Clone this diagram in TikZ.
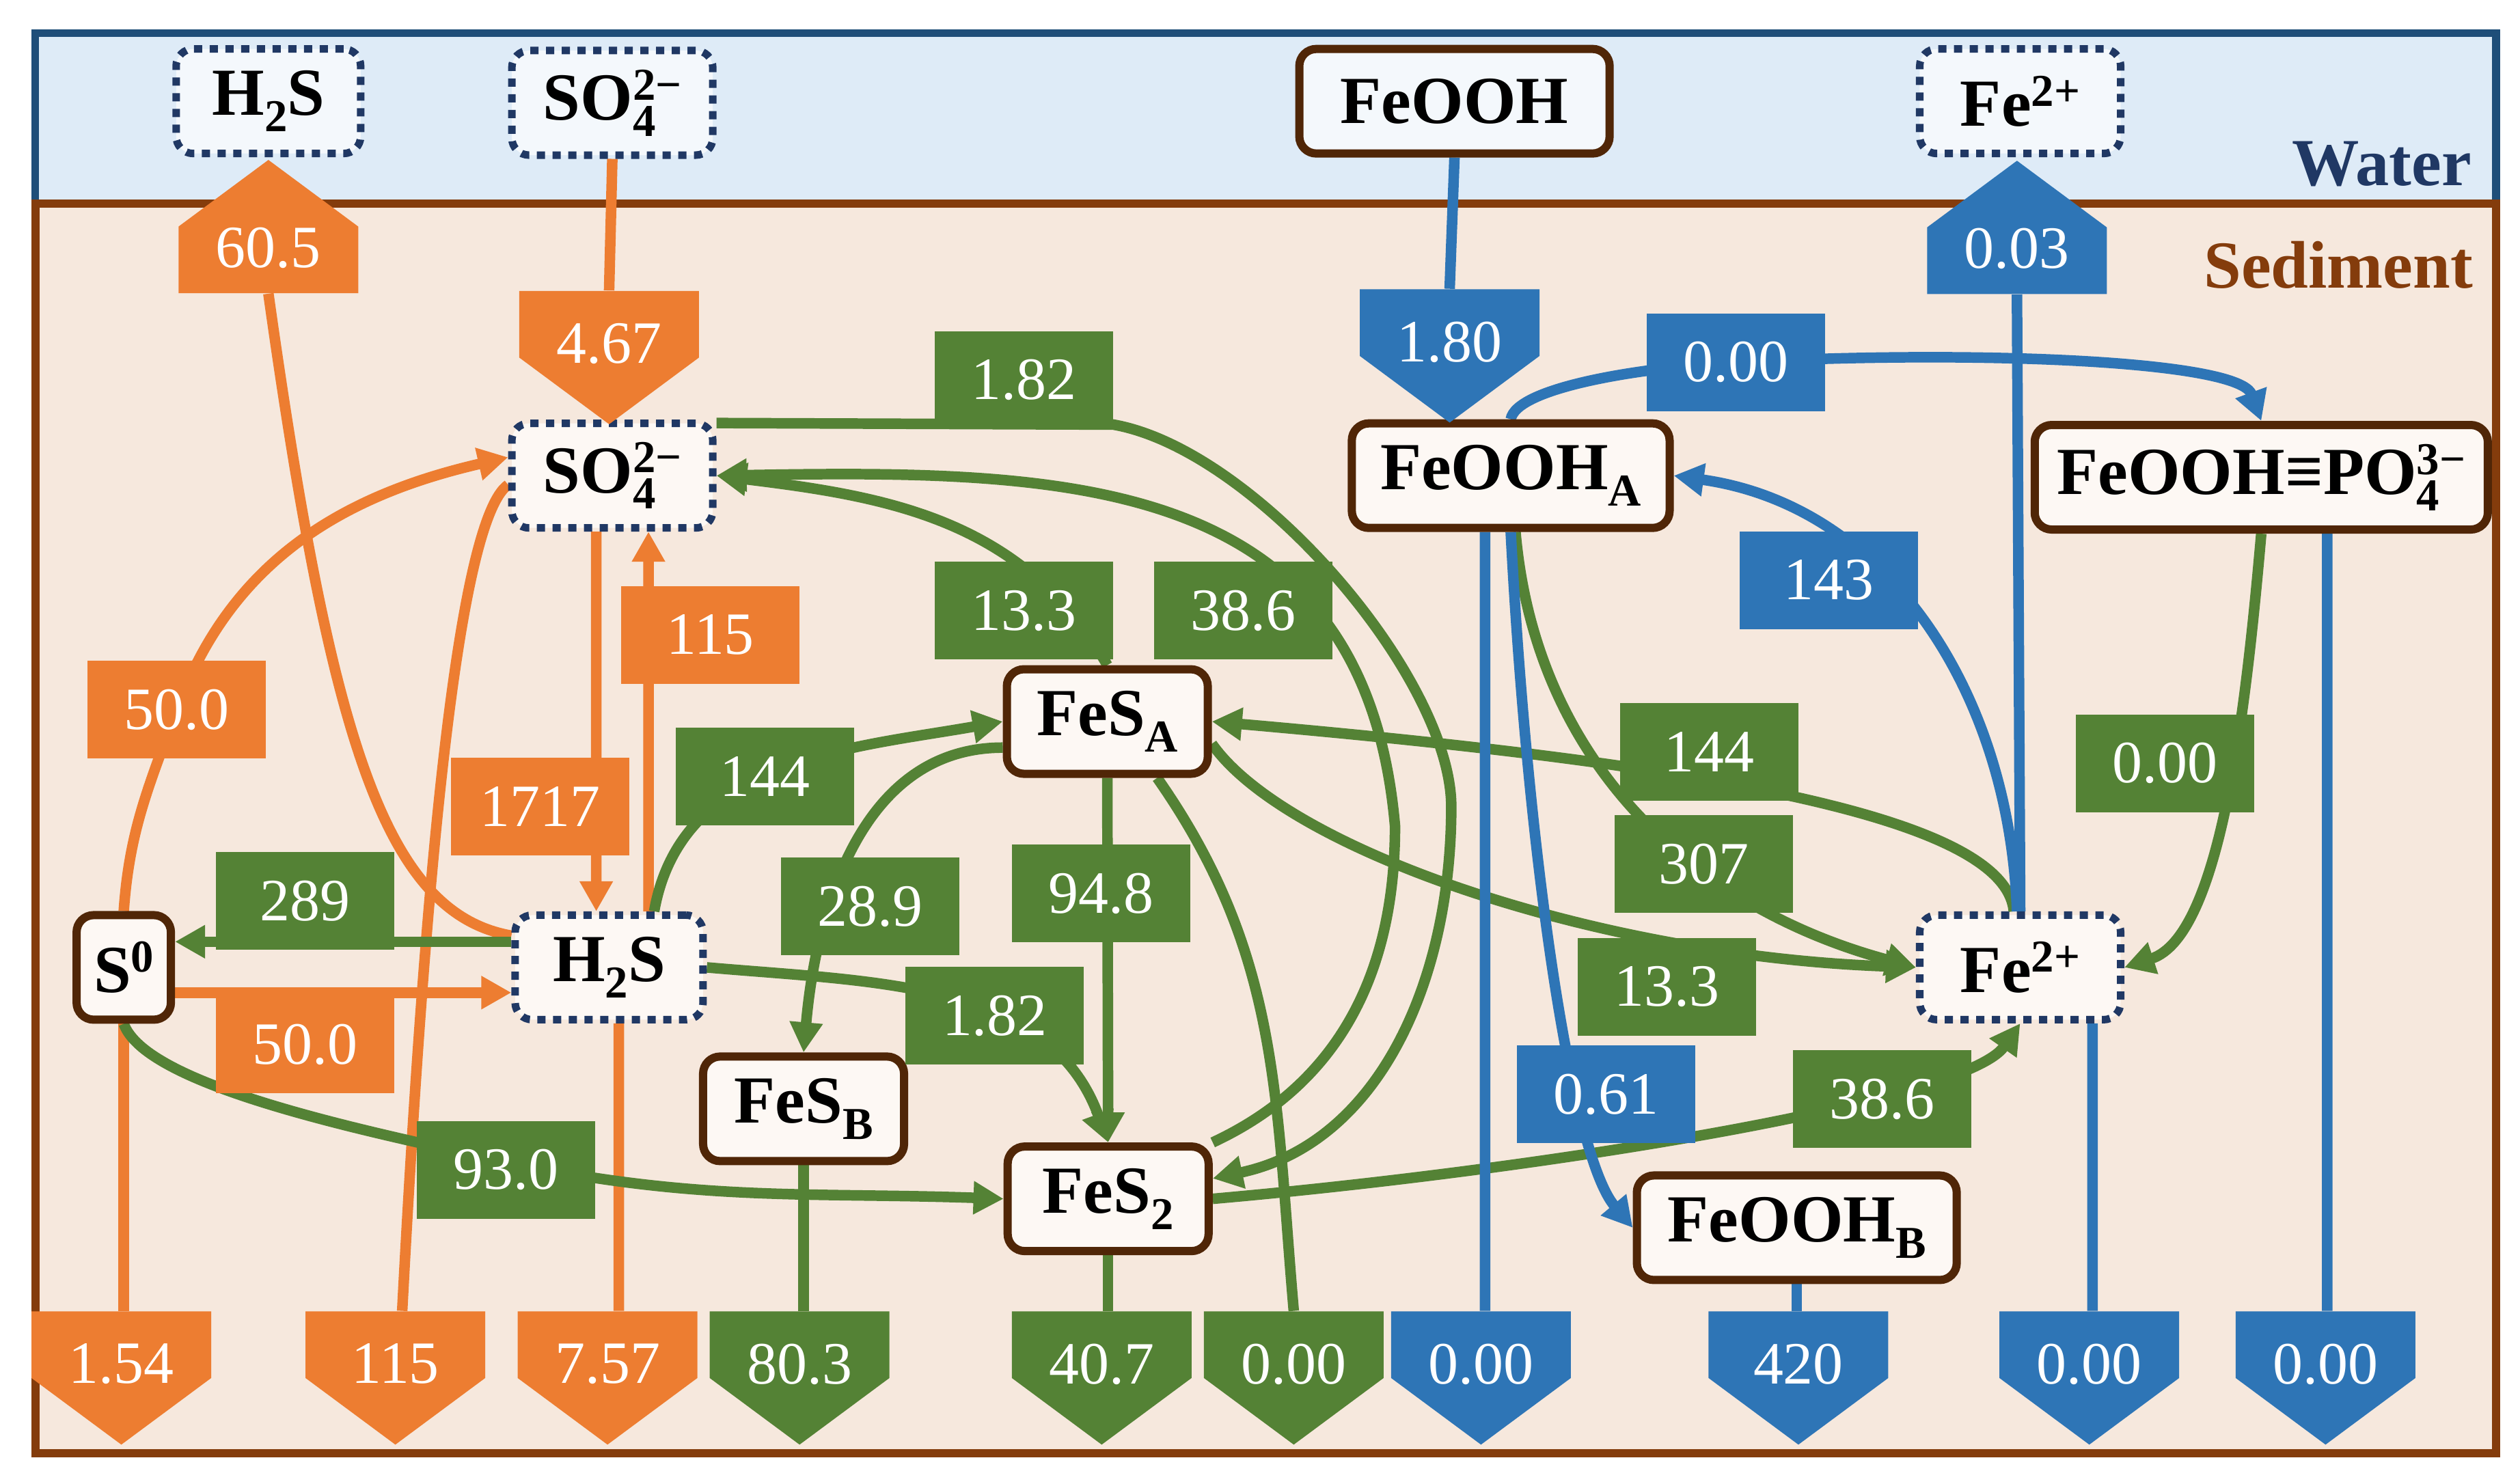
\documentclass[tikz,border=0pt]{standalone}
\usepackage{fontspec}
\setmainfont{Liberation Serif}
\usetikzlibrary{arrows.meta}
\pgfdeclarelayer{bg}
\pgfdeclarelayer{lines}
\pgfsetlayers{bg,lines,main}

\definecolor{orng}{HTML}{ED7D31}
\definecolor{grn}{HTML}{548235}
\definecolor{blu}{HTML}{2E75B6}
\definecolor{waterbg}{HTML}{DEEBF7}
\definecolor{sedbg}{HTML}{F6E8DD}
\definecolor{waterline}{HTML}{1F4E79}
\definecolor{sedline}{HTML}{843C0C}
\definecolor{navy}{HTML}{203864}
\definecolor{boxbrown}{HTML}{502607}
\definecolor{wfill}{HTML}{F4F8FC}
\definecolor{sfill}{HTML}{FDF8F4}

\newcommand{\spfont}{\fontsize{28}{30}\selectfont\bfseries}
\newcommand{\numfont}{\fontsize{25}{27}\selectfont}
\newcommand{\chsub}[1]{\raisebox{-0.24em}{\fontsize{19}{19}\selectfont #1}}
\newcommand{\chsup}[1]{\raisebox{0.3em}{\fontsize{19}{19}\selectfont #1}}
\newcommand{\chsubsup}[2]{\rlap{\chsub{#1}}\chsup{#2}}

\tikzset{
    species/.style={rounded corners=0.25cm, minimum height=1.53cm, inner sep=0pt, font=\spfont},
    solidsp/.style={species, draw=boxbrown, line width=0.12cm, fill=#1},
    dotsp/.style={species, draw=navy, line width=0.11cm, dash pattern=on 0.12cm off 0.11cm, fill=#1},
    numbox/.style={fill=#1, text=white, font=\numfont, minimum width=2.61cm, minimum height=1.43cm, inner sep=0pt},
    fluxdn/.style={text=white, font=\numfont, minimum width=2.63cm, minimum height=1.95cm, inner sep=0pt, text depth=0.42cm,
        path picture={\fill[#1] (path picture bounding box.north west) -- (path picture bounding box.north east) -- (path picture bounding box.east) -- (path picture bounding box.south) -- (path picture bounding box.west) -- cycle;}},
    fluxup/.style={text=white, font=\numfont, minimum width=2.63cm, minimum height=1.95cm, inner sep=0pt, text height=1.2cm, text depth=0cm,
        path picture={\fill[#1] (path picture bounding box.south west) -- (path picture bounding box.south east) -- (path picture bounding box.east) -- (path picture bounding box.north) -- (path picture bounding box.west) -- cycle;}},
    fluxline/.style={draw=#1, line width=4.4pt},
    fluxarrow/.style={fluxline=#1, -{Triangle[length=0.44cm, width=0.46cm]}}
}

\begin{document}
\begin{tikzpicture}[x=0.02352cm, y=0.02352cm]
    \useasboundingbox (0,0) rectangle (1568,915);
    % water and sediment
    \begin{pgfonlayer}{bg}
        \fill[waterbg] (22,894.4) rectangle (1553,788.5);
        \fill[sedbg] (22,788.5) rectangle (1553,10.7);
        \draw[waterline, line width=0.115cm] (22,788.5) -- (22,894.4) -- (1553,894.4) -- (1553,788.5);
        \draw[sedline, line width=0.12cm] (22,788.5) rectangle (1553,10.7);
    \end{pgfonlayer}
    \node[anchor=base east, inner sep=0pt, font=\spfont, text=navy] (wlabel) at (1538,799.6) {Water};
    \node[anchor=base east, inner sep=0pt, font=\spfont, text=sedline] (slabel) at (1539,735.6) {Sediment};

    % species
    \node[dotsp=wfill, minimum width=2.70cm] (wH2S) at (167,852) {H\chsub{2}S};
    \node[dotsp=wfill, minimum width=2.94cm] (wSO4) at (381,851) {SO\chsubsup{4}{2−}};
    \node[solidsp=wfill, minimum width=4.54cm] (wFeOOH) at (905,852) {FeOOH};
    \node[dotsp=wfill, minimum width=2.94cm] (wFe) at (1257,852) {Fe\chsup{2+}};
    \node[dotsp=sfill, minimum width=2.94cm] (sSO4) at (381,619) {SO\chsubsup{4}{2−}};
    \node[solidsp=sfill, minimum width=1.38cm] (sS0) at (77,313) {S\chsup{0}};
    \node[dotsp=sfill, minimum width=2.75cm] (sH2S) at (379,313) {H\chsub{2}S};
    \node[solidsp=sfill, minimum width=2.94cm] (sFeSA) at (689,466) {FeS\chsub{A}};
    \node[solidsp=sfill, minimum width=4.65cm] (sFeOOHA) at (940,619) {FeOOH\chsub{A}};
    \node[solidsp=sfill, minimum width=6.63cm] (sPO4) at (1407,618) {FeOOH≡PO\chsubsup{4}{3−}};
    \node[dotsp=sfill, minimum width=2.94cm] (sFe) at (1257,313) {Fe\chsup{2+}};
    \node[solidsp=sfill, minimum width=2.94cm] (sFeSB) at (500,225) {FeS\chsub{B}};
    \node[solidsp=sfill, minimum width=2.94cm] (sFeS2) at (689.5,169) {FeS\chsub{2}};
    \node[solidsp=sfill, minimum width=4.68cm] (sFeOOHB) at (1118,151) {FeOOH\chsub{B}};

    % exchange with water
    \node[fluxup=orng] (p605) at (167,774) {60.5};
    \node[fluxdn=orng] (p467) at (379,692.5) {4.67};
    \node[fluxdn=blu] (p180) at (902,693.5) {1.80};
    \node[fluxup=blu] (p003) at (1255,773.5) {0.03};
    % burial
    \node[fluxdn=orng] (b154) at (75.5,57.5) {1.54};
    \node[fluxdn=orng] (b115) at (246,57.5) {115};
    \node[fluxdn=orng] (b757) at (378,57.5) {7.57};
    \node[fluxdn=grn] (b803) at (497.5,57.5) {80.3};
    \node[fluxdn=grn] (b407) at (685.5,57.5) {40.7};
    \node[fluxdn=grn] (b000g) at (805,57.5) {0.00};
    \node[fluxdn=blu] (b000a) at (921.5,57.5) {0.00};
    \node[fluxdn=blu] (b420) at (1119,57.5) {420};
    \node[fluxdn=blu] (b000b) at (1300,57.5) {0.00};
    \node[fluxdn=blu] (b000c) at (1447,57.5) {0.00};

    % rates
    \node[numbox=orng] (l50p0a) at (110,473.5) {50.0};
    \node[numbox=orng] (l115) at (442,520) {115};
    \node[numbox=orng] (l1717) at (336,413) {1717};
    \node[numbox=orng] (l50p0b) at (190,265) {50.0};
    \node[numbox=grn] (l1p82a) at (637,678.5) {1.82};
    \node[numbox=grn] (l13p3a) at (637,535) {13.3};
    \node[numbox=grn] (l38p6a) at (773.5,535) {38.6};
    \node[numbox=grn] (l144a) at (476,432) {144};
    \node[numbox=grn] (l289) at (190,354.5) {289};
    \node[numbox=grn] (l28p9) at (541.5,351) {28.9};
    \node[numbox=grn] (l94p8) at (685,359) {94.8};
    \node[numbox=grn] (l1p82b) at (619,283) {1.82};
    \node[numbox=grn] (l93p0) at (315,187) {93.0};
    \node[numbox=grn] (l144b) at (1063.5,447) {144};
    \node[numbox=grn] (l307) at (1060,377.5) {307};
    \node[numbox=grn] (l13p3b) at (1037,301) {13.3};
    \node[numbox=grn] (l0p00g) at (1347,440) {0.00};
    \node[numbox=grn] (l38p6b) at (1171,231) {38.6};
    \node[numbox=blu] (l0p00t) at (1080,689.5) {0.00};
    \node[numbox=blu] (l143) at (1138,554) {143};
    \node[numbox=blu] (l0p61) at (999.5,234) {0.61};

    \coordinate (g182r) at (903,413);
    \coordinate (g386r) at (868,401);

    \begin{pgfonlayer}{lines}
        % sulfur
        \draw[fluxline=orng] (sH2S.162) to[out=170, in=-82, out distance=1.88cm, in distance=6.59cm] (p605.south);
        \draw[fluxline=orng] (wSO4.south) -- (p467.north);
        \draw[fluxarrow=orng] (sS0.north) to[out=86, in=-110] (l50p0a.center) to[out=70, in=193] (sSO4.170);
        \draw[fluxarrow=orng] ([xshift=-0.235cm]sSO4.south) -- ([xshift=-0.188cm]sH2S.north);
        \draw[fluxarrow=orng] ([xshift=0.576cm]sH2S.north) -- ([xshift=0.529cm]sSO4.south);
        \draw[fluxarrow=orng] ([yshift=-0.369cm]sS0.east) -- ([yshift=-0.369cm]sH2S.west);
        \draw[fluxline=orng] (sSO4.185) to[out=215, in=87, out distance=0.94cm, in distance=5.88cm] ([xshift=0.1cm]b115.north);
        \draw[fluxline=orng] (sS0.south) -- (sS0.south |- b154.north);
        \draw[fluxline=orng] ([xshift=0.141cm]sH2S.south) -- ([xshift=0.165cm]b757.north);
        % iron sulfides
        \draw[fluxarrow=grn] ([yshift=-0.05cm]sSO4.north east) -- ([yshift=0.07cm]l1p82a.south east) to[out=-10, in=90, out distance=2.12cm, in distance=1.88cm] (g182r) to[out=-90, in=12, out distance=2.54cm, in distance=2.49cm] (sFeS2.11);
        \draw[fluxarrow=grn] (sFeSA.north) to[out=120, in=-7] (sSO4.east);
        \draw[fluxarrow=grn] (sFeS2.north east) to[out=25, in=-90] (g386r) to[out=95, in=1, out distance=5.17cm, in distance=5.17cm] (sSO4.east);
        \draw[fluxarrow=grn] ([xshift=0.659cm]sH2S.north) to[out=80, in=190] (sFeSA.west);
        \draw[fluxarrow=grn] ([yshift=0.376cm]sH2S.west) -- ([yshift=0.376cm]sS0.east);
        \draw[fluxarrow=grn] (sFeSA.194) to[out=180, in=85] (sFeSB.north);
        \draw[fluxarrow=grn] (sFeSA.south) -- (sFeS2.north);
        \draw[fluxarrow=grn] (sH2S.east) to[out=-5, in=110] (sFeS2.north);
        \draw[fluxarrow=grn] (sS0.south) to[out=-70, in=168, out distance=0.94cm, in distance=2.33cm] ([yshift=0.12cm]l93p0.center) to[out=-12, in=178] (sFeS2.west);
        \draw[fluxarrow=grn] ([xshift=-0.094cm]sFe.north) to[out=95, in=-5, out distance=1.41cm, in distance=7.06cm] (sFeSA.east);
        \draw[fluxarrow=grn] ([xshift=0.07cm]sFeOOHA.south) to[out=-85, in=165] (sFe.west);
        \draw[fluxarrow=grn] (sFeSA.348) to[out=-55, in=178, out distance=1.88cm, in distance=4.70cm] (sFe.west);
        \draw[fluxarrow=grn] (sPO4.south) to[out=-95, in=18, out distance=2.59cm, in distance=1.48cm] (sFe.east);
        \draw[fluxarrow=grn] (sFeS2.east) to[out=5, in=-125, out distance=4.70cm, in distance=1.41cm] (sFe.south);
        \draw[fluxline=grn] (sFeSB.south) -- (sFeSB.south |- b803.north);
        \draw[fluxline=grn] (sFeS2.south) -- (sFeS2.south |- b407.north);
        \draw[fluxline=grn] ([xshift=0.729cm]sFeSA.south) to[out=-55, in=95] (b000g.north);
        % iron oxides
        \draw[fluxline=blu] (wFeOOH.south) -- (p180.north);
        \draw[fluxarrow=blu] (sFeOOHA.north) to[out=80, in=183, out distance=0.47cm, in distance=1.41cm] (l0p00t.center) to[out=3, in=110, out distance=3.53cm, in distance=0.94cm] (sPO4.north);
        \draw[fluxarrow=blu] ([xshift=-0.047cm]sFe.north) to[out=92, in=-8] (sFeOOHA.east);
        \draw[fluxline=blu] (sFe.north) -- (p003.south);
        \draw[fluxline=blu] ([xshift=-0.376cm]sFeOOHA.south) -- ([xshift=0.059cm]b000a.north);
        \draw[fluxarrow=blu] (sFeOOHA.south) to[out=-87, in=130, out distance=4.70cm, in distance=1.41cm] (sFeOOHB.west);
        \draw[fluxline=blu] (sFeOOHB.south) -- (sFeOOHB.south |- b420.north);
        \draw[fluxline=blu] ([xshift=1.058cm]sFe.south) -- ([xshift=0.047cm]b000b.north);
        \draw[fluxline=blu] ([xshift=0.964cm]sPO4.south) -- ([xshift=0.024cm]b000c.north);
    \end{pgfonlayer}
\end{tikzpicture}
\end{document}
